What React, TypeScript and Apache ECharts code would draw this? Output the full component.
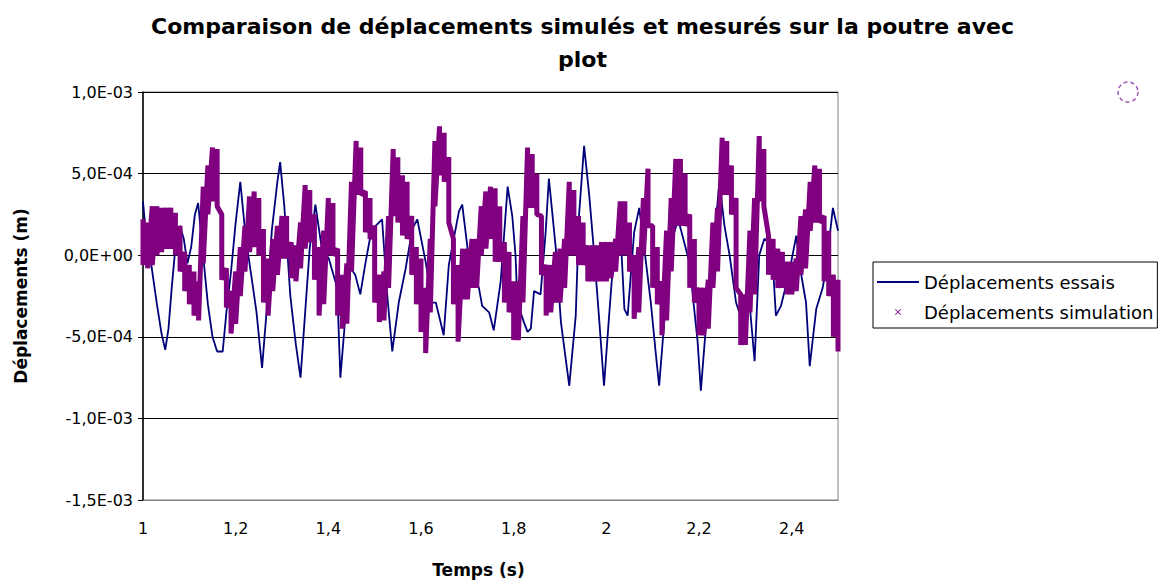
import React, { useEffect, useRef } from "react";
import * as echarts from "echarts";

// Measured displacements ("essais"), time in s, value in 1e-4 m
const essaisTime = [
  1.0, 1.004, 1.01, 1.02, 1.03, 1.04, 1.048, 1.055, 1.062, 1.07, 1.08, 1.088, 1.096, 1.104, 1.112, 1.119,
  1.128, 1.14, 1.15, 1.16, 1.172, 1.18, 1.19, 1.2, 1.21, 1.222, 1.235, 1.245, 1.257, 1.268, 1.278, 1.29,
  1.296, 1.305, 1.318, 1.33, 1.34, 1.35, 1.36, 1.372, 1.386, 1.401, 1.419, 1.426, 1.437, 1.448, 1.458, 1.469,
  1.48, 1.491, 1.502, 1.516, 1.527, 1.538, 1.552, 1.567, 1.581, 1.592, 1.61, 1.624, 1.632, 1.649, 1.66, 1.682,
  1.689, 1.704, 1.725, 1.732, 1.747, 1.757, 1.772, 1.787, 1.797, 1.804, 1.808, 1.822, 1.83, 1.837, 1.844, 1.858,
  1.869, 1.876, 1.891, 1.902, 1.913, 1.92, 1.934, 1.941, 1.952, 1.963, 1.974, 1.985, 1.995, 2.006, 2.017, 2.032,
  2.039, 2.046, 2.06, 2.071, 2.082, 2.096, 2.107, 2.114, 2.125, 2.136, 2.155, 2.179, 2.197, 2.204, 2.219, 2.23,
  2.244, 2.255, 2.266, 2.28, 2.294, 2.309, 2.32, 2.33, 2.341, 2.352, 2.359, 2.366, 2.377, 2.395, 2.41, 2.417,
  2.431, 2.439, 2.453, 2.467, 2.475, 2.489, 2.5,
];
const essaisValue = [
  3.3, 2.0, 1.0, -1.0, -3.0, -4.8, -5.8, -4.5, -2.0, 0.5, 1.8, 1.0, -0.5, 0.5, 2.5, 3.2,
  0.5, -3.0, -5.0, -5.9, -5.9, -3.5, -1.0, 2.0, 4.5, 1.0, -1.5, -3.5, -6.9, -3.0, 1.5, 4.5,
  5.7, 3.0, -2.5, -5.5, -7.5, -3.5, 0.5, 3.1, 0.4, -0.2, -2.0, -7.5, -3.7, -0.8, -1.2, -2.4,
  -0.5, 1.2, 1.8, 2.2, -2.4, -5.9, -2.9, -0.8, 1.6, 2.2, -0.4, -2.9, -2.9, -4.9, -0.6, 2.7,
  3.1, -0.4, -2.0, -3.1, -3.5, -4.6, -1.6, 4.2, 2.4, 0.0, -2.9, -4.1, -4.7, -4.5, -2.2, -2.4,
  1.4, 4.7, 0.4, -4.1, -6.5, -8.0, -3.7, 2.4, 6.7, 3.7, 0.0, -4.1, -8.0, -3.7, 0.4, 0.6,
  -3.3, -3.7, 1.4, 2.9, 0.4, -2.9, -6.1, -8.0, -4.1, 0.4, 2.2, -0.4, -5.3, -8.3, -2.9, 0.0,
  4.5, 1.8, 0.0, -2.9, -4.1, -2.9, -6.5, 0.0, 1.0, 0.8, -0.4, -3.7, -3.1, -1.0, 1.2, -0.6,
  -2.9, -6.8, -3.3, -2.0, -0.6, 2.9, 1.5,
];

// Simulated displacements: time in s, upper and lower envelope of the marker band, in 1e-4 m
const simTime = [
  1.0, 1.01, 1.02, 1.03, 1.04, 1.05, 1.06, 1.07, 1.08, 1.09, 1.1, 1.11, 1.12, 1.13, 1.14, 1.15,
  1.16, 1.17, 1.18, 1.19, 1.2, 1.21, 1.22, 1.23, 1.24, 1.25, 1.26, 1.27, 1.28, 1.29, 1.3, 1.31,
  1.32, 1.33, 1.34, 1.35, 1.36, 1.37, 1.38, 1.39, 1.4, 1.41, 1.42, 1.43, 1.44, 1.45, 1.46, 1.47,
  1.48, 1.49, 1.5, 1.51, 1.52, 1.53, 1.54, 1.55, 1.56, 1.57, 1.58, 1.59, 1.6, 1.61, 1.62, 1.63,
  1.64, 1.65, 1.66, 1.67, 1.68, 1.69, 1.7, 1.71, 1.72, 1.73, 1.74, 1.75, 1.76, 1.77, 1.78, 1.79,
  1.8, 1.81, 1.82, 1.83, 1.84, 1.85, 1.86, 1.87, 1.88, 1.89, 1.9, 1.91, 1.92, 1.93, 1.94, 1.95,
  1.96, 1.97, 1.98, 1.99, 2.0, 2.01, 2.02, 2.03, 2.04, 2.05, 2.06, 2.07, 2.08, 2.09, 2.1, 2.11,
  2.12, 2.13, 2.14, 2.15, 2.16, 2.17, 2.18, 2.19, 2.2, 2.21, 2.22, 2.23, 2.24, 2.25, 2.26, 2.27,
  2.28, 2.29, 2.3, 2.31, 2.32, 2.33, 2.34, 2.35, 2.36, 2.37, 2.38, 2.39, 2.4, 2.41, 2.42, 2.43,
  2.44, 2.45, 2.46, 2.47, 2.48, 2.49, 2.5,
];
const simUpper = [
  2.2, 2.0, 3.0, 3.0, 2.9, 2.9, 2.9, 2.6, 1.8, 0.2, -0.6, -1.0, -1.6, 4.2, 5.5, 6.6,
  6.5, 2.5, -0.8, -2.2, -1.0, 0.5, 1.8, 3.6, 3.9, 3.5, 1.6, -0.2, 1.0, 1.8, 2.4, 2.4,
  0.8, 0.6, 2.0, 4.3, 4.0, 2.5, 0.5, 1.5, 3.5, 3.2, 0.4, -1.2, -0.5, 4.5, 7.0, 6.6,
  3.9, 3.5, 1.8, -1.2, -1.0, 2.4, 6.5, 6.0, 4.9, 4.5, 2.4, 0.5, -0.2, -2.0, 1.0, 7.0,
  7.9, 7.5, 6.0, 1.0, -0.6, 0.4, 0.4, 1.0, 1.0, 3.0, 3.9, 4.2, 4.1, 3.0, 0.8, 0.2,
  -1.6, -1.6, 2.4, 6.6, 6.2, 5.0, 2.4, -0.6, -0.6, 0.2, 0.4, 1.0, 4.5, 4.0, 2.4, 2.0,
  0.6, 0.6, 0.6, 0.8, 0.8, 0.8, 1.0, 3.3, 3.3, 2.0, 0.0, 0.5, 3.5, 5.3, 1.8, 0.5,
  -1.6, 1.5, 3.5, 5.9, 5.9, 5.0, 2.5, 1.0, -2.0, -2.0, -1.5, 2.0, 2.9, 7.2, 7.0, 5.5,
  3.5, -2.4, -2.4, 1.5, 3.5, 7.3, 6.5, 1.2, 1.0, 0.4, 0.2, -0.4, -0.4, -0.2, 2.4, 2.8,
  4.5, 5.5, 5.3, 2.4, 1.5, -1.2, -1.5,
];
const simLower = [
  -0.6, -0.8, -0.6, 0.0, 0.2, 0.4, 0.4, 0.0, -1.0, -2.2, -3.0, -3.7, -4.0, -0.5, 2.5, 3.3,
  3.0, -1.5, -3.2, -4.8, -4.2, -2.5, -1.0, 0.2, 0.5, 0.0, -2.9, -3.7, -2.2, -1.2, -0.2, -0.2,
  -1.4, -1.6, -0.8, 0.4, 0.8, -1.5, -3.7, -3.0, 0.0, 0.0, -3.7, -4.5, -4.2, -1.0, 3.7, 3.7,
  1.4, 1.0, -2.9, -4.1, -4.0, -2.0, 2.4, 2.0, 1.2, 1.0, -1.2, -3.0, -4.7, -6.0, -3.5, 3.0,
  4.9, 4.5, 2.0, -3.0, -5.3, -2.7, -2.7, -2.0, -2.0, 0.0, 0.4, 1.0, -0.4, -0.4, -2.9, -3.5,
  -5.2, -5.2, -2.9, 2.9, 2.9, 2.5, -1.2, -3.7, -3.5, -2.9, -2.9, -2.0, 0.0, 0.0, -0.6, -0.6,
  -1.6, -1.6, -1.6, -1.6, -1.6, -1.4, -1.0, 0.0, 0.0, -1.0, -3.9, -3.5, 0.0, 1.8, -2.0, -3.0,
  -4.9, -4.0, -1.0, 1.8, 1.8, 1.8, -2.0, -2.9, -4.9, -4.9, -4.5, -2.0, -1.0, 3.7, 3.7, 2.5,
  -2.0, -5.5, -5.5, -3.5, -2.4, 3.3, 3.0, -1.2, -1.5, -2.0, -2.0, -2.4, -2.4, -2.2, -1.2, -0.8,
  1.5, 2.0, 2.0, -1.6, -2.5, -5.0, -5.9,
];

const UNIT = 1e-4;

const fmtExp = (v: number) => {
  const val = Math.abs(v) < 1e-12 ? 0 : v;
  const s = val.toExponential(1);
  const [mant, expStr] = s.split("e");
  const exp = parseInt(expStr, 10);
  const sign = exp < 0 ? "-" : "+";
  const e2 = String(Math.abs(exp)).padStart(2, "0");
  return mant.replace(".", ",") + "E" + sign + e2;
};

const crossIcon =
  "path://M-7,-7M17,17M0,1L1,0L5,4L9,0L10,1L6,5L10,9L9,10L5,6L1,10L0,9L4,5Z";
const lineIcon = "path://M0,-6M42,8M0,0L42,0L42,2L0,2Z";

const FONT = "DejaVu Sans";

export default function App() {
  const ref = useRef<HTMLDivElement>(null);

  useEffect(() => {
    if (!ref.current) return;
    const chart = echarts.init(ref.current, null, { renderer: "svg" });

    const essaisData = essaisTime.map((t, i) => [t, essaisValue[i] * UNIT]);
    const simData: number[][] = [];
    simTime.forEach((t, i) => {
      simData.push([t, simUpper[i] * UNIT]);
      simData.push([t, simLower[i] * UNIT]);
    });

    chart.setOption({
      animation: false,
      backgroundColor: "#ffffff",
      textStyle: { fontFamily: FONT, color: "#000" },
      title: {
        text: "Comparaison de déplacements simulés et mesurés sur la poutre avec\nplot",
        left: "center",
        top: 5,
        textStyle: {
          fontFamily: FONT,
          fontWeight: "bold",
          fontSize: 22,
          lineHeight: 33,
          color: "#000",
        },
      },
      grid: {
        left: 143,
        top: 92,
        width: 695,
        height: 408,
        show: true,
        borderColor: "#808080",
        borderWidth: 1,
        backgroundColor: "transparent",
      },
      xAxis: {
        type: "value",
        min: 1,
        max: 2.5,
        interval: 0.2,
        name: "Temps (s)",
        nameLocation: "middle",
        nameGap: 61,
        nameTextStyle: {
          fontFamily: FONT,
          fontWeight: "bold",
          fontSize: 17,
          color: "#000",
          padding: [0, 24, 0, 0],
        },
        axisLine: { show: true, onZero: false, lineStyle: { color: "#808080", width: 1 } },
        axisTick: { show: false },
        splitLine: { show: false },
        axisLabel: {
          fontFamily: FONT,
          fontSize: 16,
          color: "#000",
          margin: 20,
          showMaxLabel: false,
          formatter: (v: number) => String(Math.round(v * 10) / 10).replace(".", ","),
        },
      },
      yAxis: {
        type: "value",
        min: -1.5e-3,
        max: 1e-3,
        interval: 5e-4,
        name: "Déplacements (m)",
        nameLocation: "middle",
        nameGap: 114,
        nameTextStyle: {
          fontFamily: FONT,
          fontWeight: "bold",
          fontSize: 17,
          color: "#000",
        },
        axisLine: { show: true, onZero: false, lineStyle: { color: "#000", width: 1.5 } },
        axisTick: { show: true, length: 5, lineStyle: { color: "#000", width: 1 } },
        splitLine: { show: true, lineStyle: { color: "#000", width: 1.2 } },
        axisLabel: {
          fontFamily: FONT,
          fontSize: 16,
          color: "#000",
          margin: 10,
          formatter: fmtExp,
        },
      },
      legend: {
        orient: "vertical",
        left: 873,
        top: 262,
        padding: [10, 4, 6, 4],
        itemGap: 10,
        itemWidth: 42,
        itemHeight: 14,
        borderColor: "#000",
        borderWidth: 1,
        backgroundColor: "#fff",
        textStyle: { fontFamily: FONT, fontSize: 18, color: "#000", lineHeight: 20 },
        data: [
          { name: "Déplacements essais", icon: lineIcon },
          { name: "Déplacements simulation", icon: crossIcon },
        ],
      },
      graphic: [
        {
          type: "circle",
          shape: { cx: 1128, cy: 92, r: 10 },
          style: { fill: "none", stroke: "#9b59b6", lineWidth: 1.5, lineDash: [4, 3] },
        },
      ],
      series: [
        {
          name: "Déplacements essais",
          type: "line",
          data: essaisData,
          symbol: "none",
          showSymbol: false,
          lineStyle: { color: "#00007a", width: 1.8 },
          itemStyle: { color: "#00007a" },
          z: 2,
        },
        {
          name: "Déplacements simulation",
          type: "line",
          data: simData,
          symbol: "none",
          showSymbol: false,
          lineStyle: { color: "#800080", width: 5, join: "bevel" },
          itemStyle: { color: "#800080" },
          z: 3,
        },
      ],
    });

    return () => chart.dispose();
  }, []);

  return (
    <div
      ref={ref}
      style={{ position: "fixed", left: 0, top: 0, width: 1165, height: 588, background: "#fff" }}
    />
  );
}
